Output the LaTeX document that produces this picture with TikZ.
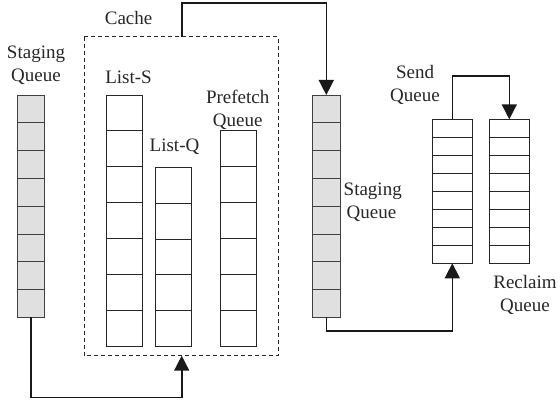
\documentclass[tikz,border=0pt]{standalone}
\usepackage{fontspec}
\setmainfont{Liberation Serif}
\usetikzlibrary{arrows.meta}

% A stack of equal cells: name, left x, top y, width, cell height, cells, style
\newcommand\qstack[7]{%
  \node[#7, anchor=north west, minimum width=#4pt, minimum height=#5*#6pt]
    (#1) at (#2,#3) {};
  \foreach \k in {1,...,\numexpr#6-1\relax}
    \draw[#7] ([yshift=-\k*#5pt]#1.north west) -- ([yshift=-\k*#5pt]#1.north east);
}

\begin{document}
\begin{tikzpicture}[x=1pt, y=-1pt,
  graycell/.style={draw=black!75, fill=black!12, line width=0.8pt, inner sep=0pt, outer sep=0pt},
  whitecell/.style={draw=black!85, line width=0.8pt, inner sep=0pt, outer sep=0pt},
  label/.style={font=\fontsize{19}{23}\selectfont, text=black!85, inner sep=0pt, align=center},
  flow/.style={draw=black!90, line width=1.6pt, -{Triangle[length=15pt, width=15pt]}},
  group/.style={draw=black!85, line width=0.8pt, dash pattern=on 4pt off 3pt}]

\useasboundingbox (0,0) rectangle (560,403);

% cache region
\draw[group] (84.3,36.7) rectangle (278.3,355.7);
\node[anchor=north west, minimum width=194pt, minimum height=319pt, inner sep=0pt, outer sep=0pt]
  (cache) at (84.3,36.7) {};

% queues
\qstack{stageA}{17}{95}{27.4}{27.8}{8}{graycell}
\qstack{lists}{106.7}{95}{36}{35.9}{7}{whitecell}
\qstack{listq}{155}{167.4}{36}{35.8}{5}{whitecell}
\qstack{prefetch}{220}{130.7}{36}{35.9}{6}{whitecell}
\qstack{stageB}{312.3}{95}{28}{27.8}{8}{graycell}
\qstack{send}{432.3}{119.3}{40}{18}{8}{whitecell}
\qstack{reclaim}{489.3}{119.3}{40}{18}{8}{whitecell}

% labels (two-line labels are placed by the baseline of their last line)
\node[label, anchor=base] (tcache) at (128.6,25) {Cache};
\node[label, anchor=base] (tstageA) at (36,81.7) {Staging\\Queue};
\node[label, anchor=base] (tlists) at (128.5,84) {List-S};
\node[label, anchor=base] (tlistq) at (174.5,151.5) {List-Q};
\node[label, anchor=base] (tprefetch) at (237.7,126.3) {Prefetch\\Queue};
\node[label, anchor=base west] (tstageB) at (343.5,195.5) {Staging};
\node[label, anchor=base west] (tstageB2) at (346.5,218.5) {Queue};
\node[label, anchor=base] (tsend) at (415,101.7) {Send\\Queue};
\node[label, anchor=base] (treclaim) at (525,312) {Reclaim\\Queue};

% connectors
\draw[flow] ([xshift=97.4pt]cache.north west) -- ++(0,-33.4) -| (stageB.north);
\draw[flow] (stageA.south) -- ++(0,80) -| ([xshift=97.4pt]cache.south west);
\draw[flow] (stageB.south) -- ++(0,13.4) -| (send.south);
\draw[flow] (send.north) -- ++(0,-43.3) -| (reclaim.north);

\end{tikzpicture}
\end{document}
